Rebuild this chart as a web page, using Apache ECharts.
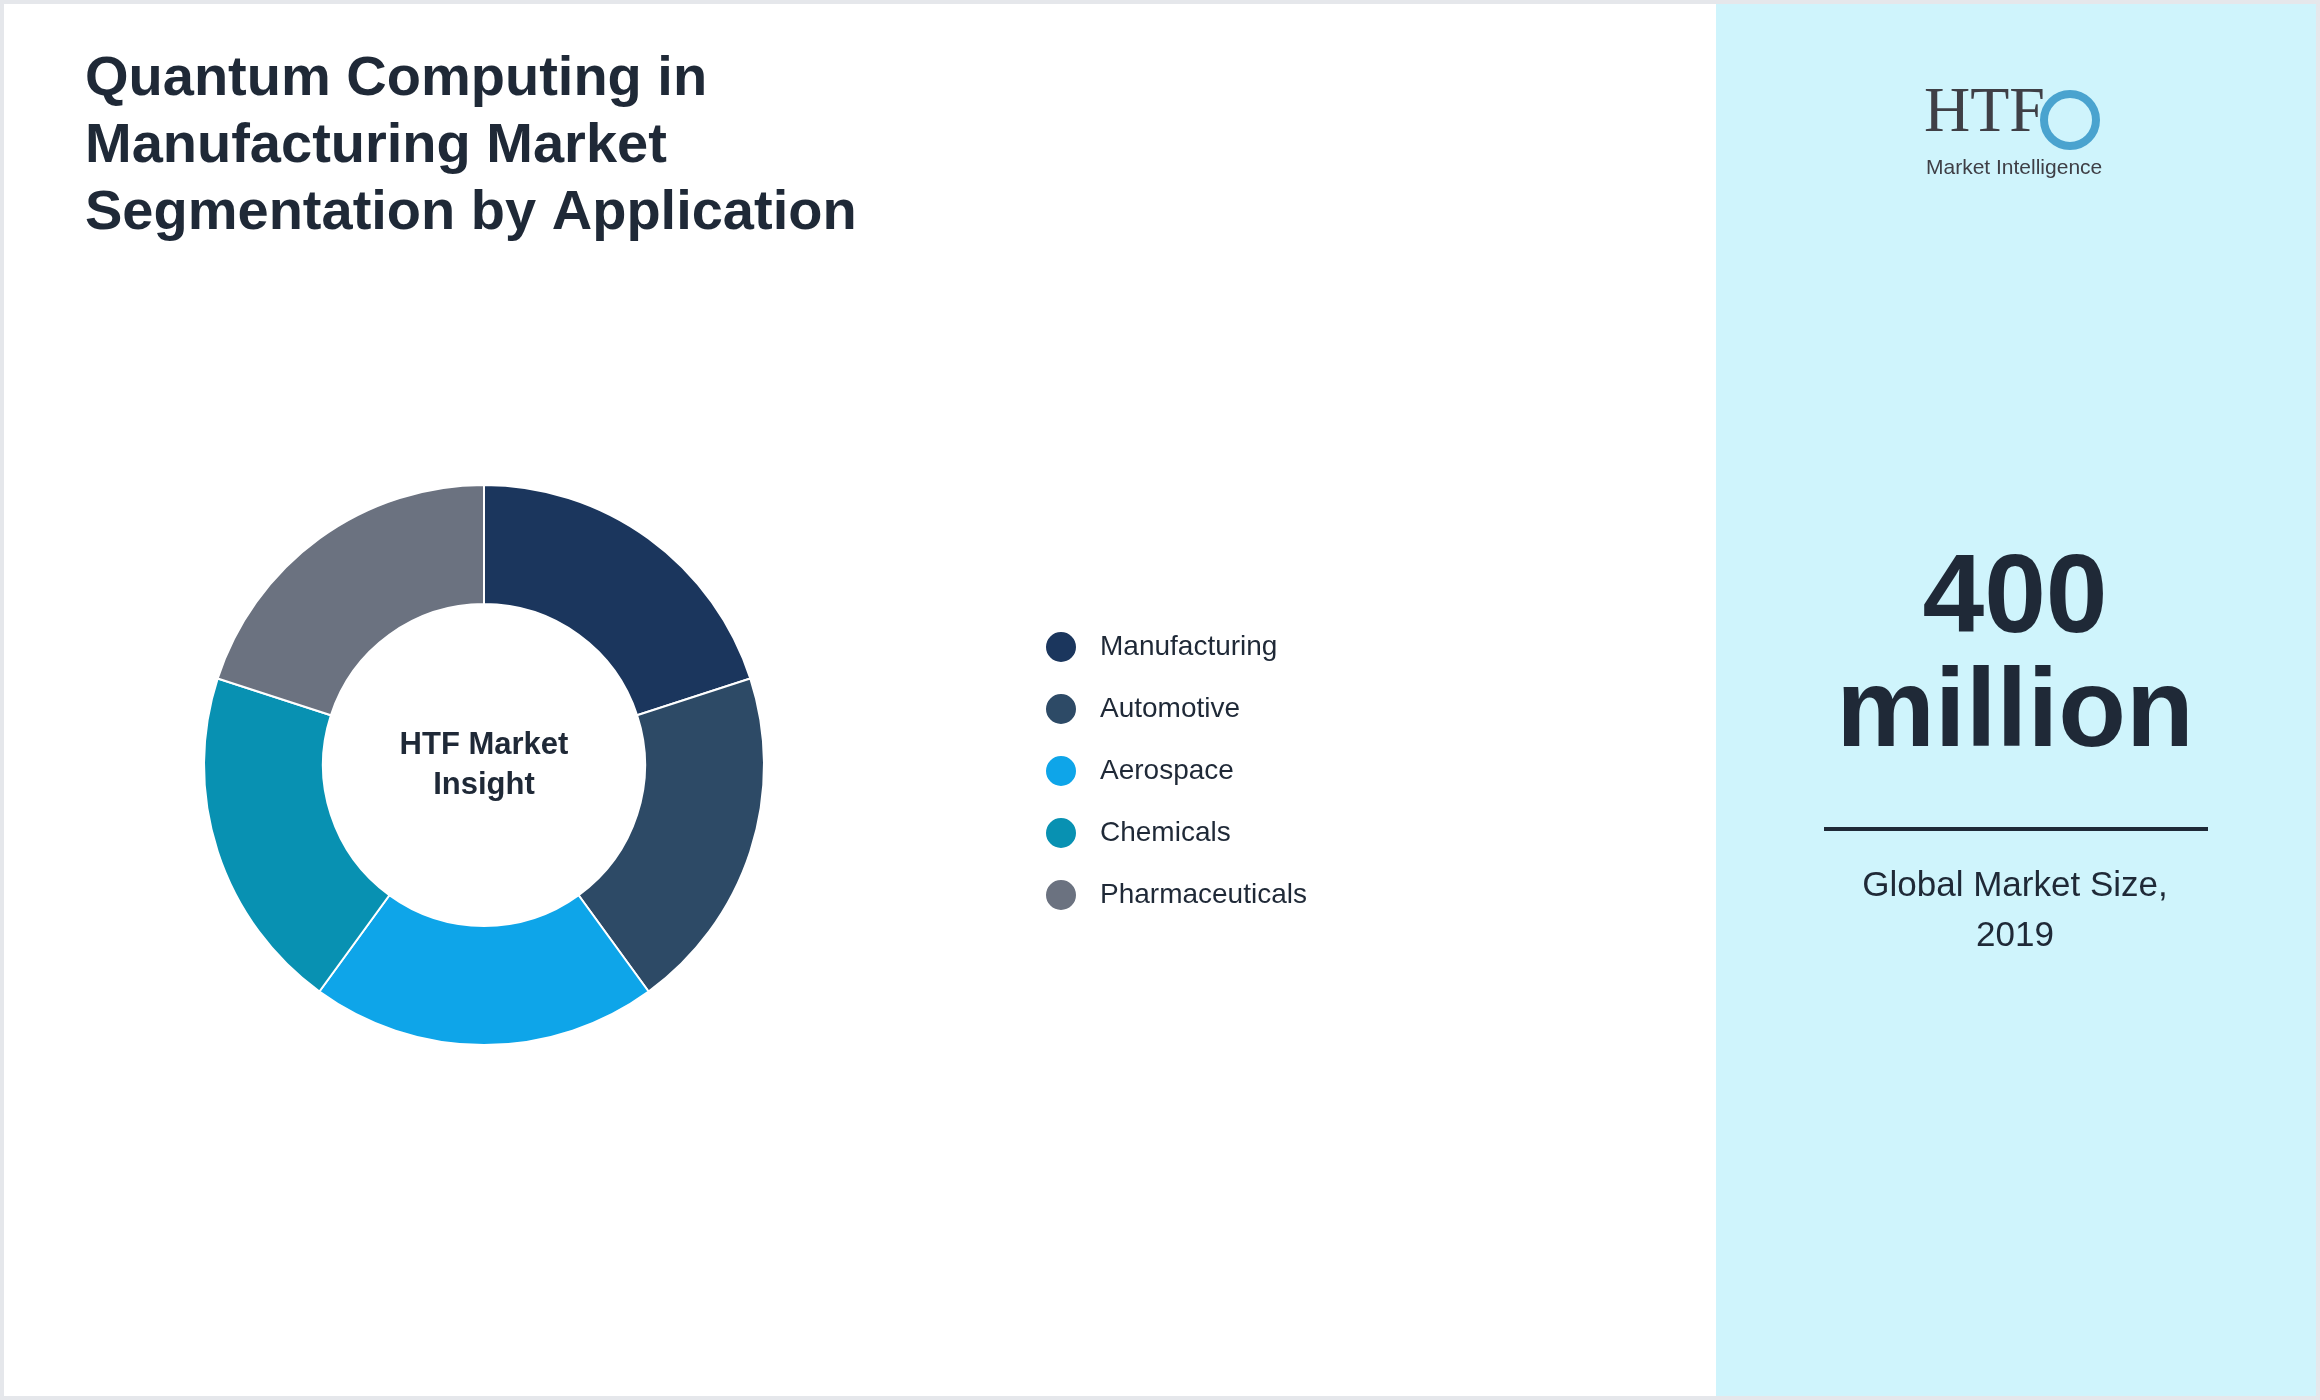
<!DOCTYPE html>
<html lang="en">
  <head>
    <meta charset="UTF-8" />
    <title>Quantum Computing in Manufacturing</title>
    <script src="https://cdn.jsdelivr.net/npm/echarts@6.0.0/dist/echarts.min.js"></script>
    <style>
      html, body { margin: 0; padding: 0; background: #fff; }
      #chart { width: 2320px; height: 1400px; box-sizing: border-box; border: 4px solid #e5e7eb; }
    </style>
  </head>
  <body>
    <div id="chart"></div>
    <script>
      var categories = ["Manufacturing", "Automotive", "Aerospace", "Chemicals", "Pharmaceuticals"]
      var values = [20, 20, 20, 20, 20]
      var colors = ["#1b365d", "#2d4a66", "#0ea5e9", "#0891b2", "#6b7280"]

      var mCharts = echarts.init(document.getElementById("chart"))
      var font = "Liberation Sans, Arial, sans-serif"

      var pieData = []
      for (let i = 0; i < categories.length; i++) {
        pieData.push({ name: categories[i], value: values[i], itemStyle: { color: colors[i] } })
      }

      // coordinates are inside the 4px border
      var option = {
        animation: false,
        textStyle: { fontFamily: font },
        title: {
          text: "Quantum Computing in\nManufacturing Market\nSegmentation by Application",
          left: 76,
          top: 37,
          textStyle: { fontSize: 56, fontWeight: "bold", color: "#1f2937", lineHeight: 67, fontFamily: font },
        },
        legend: {
          orient: "vertical",
          left: 1035,
          top: 621,
          icon: "circle",
          itemWidth: 32,
          itemHeight: 32,
          itemGap: 28,
          data: categories,
          textStyle: { fontSize: 28, color: "#1f2937", padding: [0, 0, 0, 18], fontFamily: font },
        },
        graphic: [
          { type: "rect", shape: { x: 1712, y: 0, width: 610, height: 1400 }, style: { fill: "#cff4fc" }, z: -10 },
          { type: "text", style: { x: 1920, y: 78, text: "HTF", font: "64px Liberation Serif", fill: "#3f3f46" } },
          { type: "circle", shape: { cx: 2066, cy: 116, r: 26 }, style: { fill: "none", stroke: "#4aa3cf", lineWidth: 8 } },
          { type: "text", style: { x: 1922, y: 154, text: "Market Intelligence", font: "21px Liberation Sans", fill: "#3f3f46" } },
          { type: "text", style: { x: 2011, y: 597, text: "400", align: "center", verticalAlign: "middle", font: "bold 111px " + font, fill: "#1f2937" } },
          { type: "text", style: { x: 2011, y: 711, text: "million", align: "center", verticalAlign: "middle", font: "bold 111px " + font, fill: "#1f2937" } },
          { type: "rect", shape: { x: 1820, y: 823, width: 384, height: 4 }, style: { fill: "#1f2937" } },
          { type: "text", style: { x: 2011, y: 882, text: "Global Market Size,", align: "center", verticalAlign: "middle", font: "35px " + font, fill: "#1f2937" } },
          { type: "text", style: { x: 2011, y: 932, text: "2019", align: "center", verticalAlign: "middle", font: "35px " + font, fill: "#1f2937" } },
          { type: "text", style: { x: 480, y: 761, text: "HTF Market\nInsight", align: "center", verticalAlign: "middle", lineHeight: 40, font: "bold 31px " + font, fill: "#1f2937" } },
        ],
        series: [
          {
            type: "pie",
            center: [480, 761],
            radius: [161, 280],
            startAngle: 90,
            label: { show: false },
            labelLine: { show: false },
            itemStyle: { borderColor: "#fff", borderWidth: 2 },
            data: pieData,
          },
        ],
      }

      mCharts.setOption(option)
    </script>
  </body>
</html>
